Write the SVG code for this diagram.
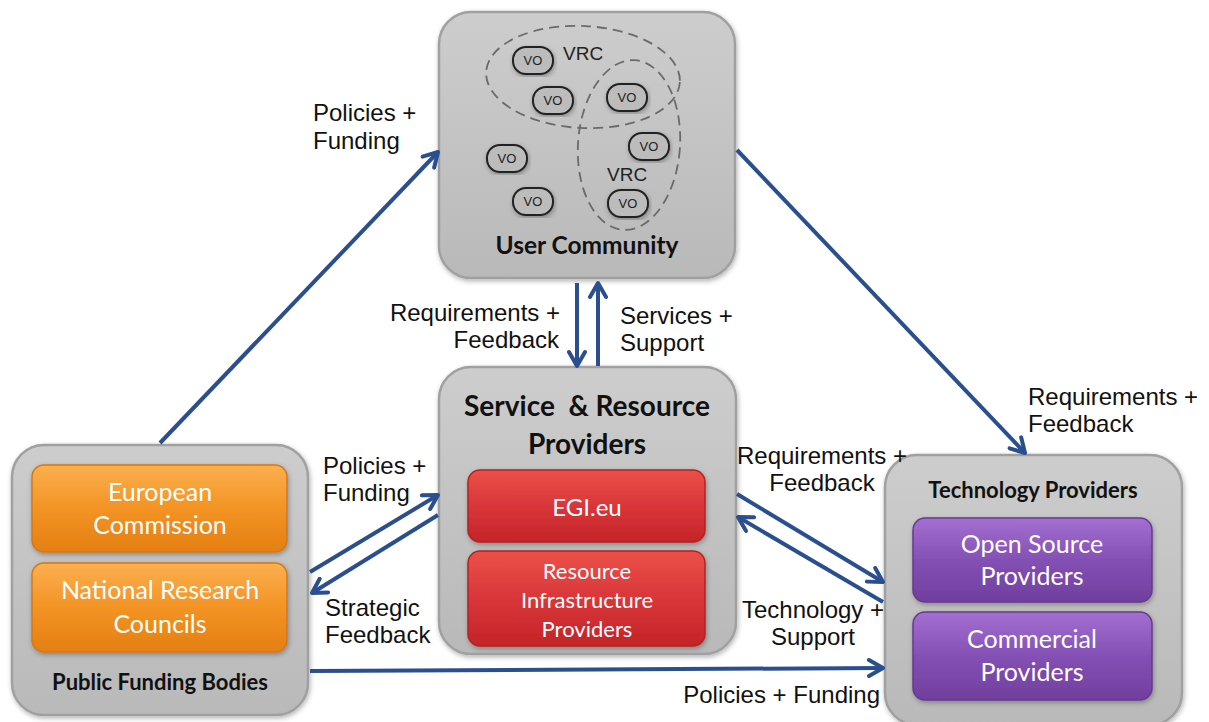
<svg xmlns="http://www.w3.org/2000/svg" width="1209" height="722" viewBox="0 0 1209 722">
<defs>
<linearGradient id="gGray" x1="0" y1="0" x2="0" y2="1">
<stop offset="0" stop-color="#cdcdcd"/><stop offset="1" stop-color="#b9b9b9"/>
</linearGradient>
<linearGradient id="gOrange" x1="0" y1="0" x2="0" y2="1">
<stop offset="0" stop-color="#fbb050"/><stop offset="0.5" stop-color="#f39324"/><stop offset="1" stop-color="#e47f12"/>
</linearGradient>
<linearGradient id="gRed" x1="0" y1="0" x2="0" y2="1">
<stop offset="0" stop-color="#ec5048"/><stop offset="0.5" stop-color="#d9363a"/><stop offset="1" stop-color="#c42428"/>
</linearGradient>
<linearGradient id="gPurple" x1="0" y1="0" x2="0" y2="1">
<stop offset="0" stop-color="#a46fd2"/><stop offset="0.5" stop-color="#8450b4"/><stop offset="1" stop-color="#703f9e"/>
</linearGradient>
<filter id="shadow" x="-10%" y="-10%" width="120%" height="120%">
<feDropShadow dx="1" dy="2" stdDeviation="2.5" flood-color="#000" flood-opacity="0.3"/>
</filter>
<marker id="arr" viewBox="0 0 20 20" refX="17" refY="10" markerWidth="20" markerHeight="20" markerUnits="userSpaceOnUse" orient="auto">
<path d="M3,2 L17,10 L3,18" fill="none" stroke="#2b4f8e" stroke-width="4" stroke-linecap="round" stroke-linejoin="round"/>
</marker>
<style>
.outer{fill:url(#gGray);stroke:#a0a0a0;stroke-width:2.5;filter:url(#shadow)}
.orange{fill:url(#gOrange);stroke:#d47818;stroke-width:1.5;filter:url(#shadow)}
.red{fill:url(#gRed);stroke:#b42222;stroke-width:1.5;filter:url(#shadow)}
.purple{fill:url(#gPurple);stroke:#643a8e;stroke-width:1.5;filter:url(#shadow)}
.vo{fill:#bcbcbc;stroke:#222;stroke-width:2;filter:url(#shadow)}
.vot{font-family:"Liberation Sans",Arial,sans-serif;font-size:13px;fill:#222;text-anchor:middle}
.vrc{font-family:"Liberation Sans",Arial,sans-serif;font-size:19px;fill:#222}
.dash{fill:none;stroke:#6a6a6a;stroke-width:1.8;stroke-dasharray:10 6}
.title{font-family:Lato,"Open Sans",sans-serif;font-weight:bold;fill:#111;text-anchor:middle;white-space:pre}
.inner{font-family:Lato,"Open Sans",sans-serif;fill:#fff;text-anchor:middle}
.lbl{font-family:"Liberation Sans",Arial,sans-serif;font-size:24px;fill:#111}
.conn{stroke:#2b4f8e;stroke-width:4;fill:none;marker-end:url(#arr)}
</style>
</defs>
<rect width="1209" height="722" fill="#fff"/>

<g id="user-community">
<rect class="outer" x="439" y="12" width="296" height="266" rx="32"/>
<ellipse class="dash" cx="583" cy="77" rx="97" ry="51" transform="rotate(3 583 77)"/>
<ellipse class="dash" cx="629" cy="145" rx="51" ry="85" transform="rotate(4 629 145)"/>
<rect class="vo" x="513" y="47" width="40" height="27" rx="13"/><text class="vot" x="533" y="65">VO</text>
<rect class="vo" x="533" y="87" width="40" height="27" rx="13"/><text class="vot" x="553" y="105">VO</text>
<rect class="vo" x="607" y="84" width="40" height="27" rx="13"/><text class="vot" x="627" y="102">VO</text>
<rect class="vo" x="629" y="133" width="40" height="27" rx="13"/><text class="vot" x="649" y="151">VO</text>
<rect class="vo" x="487" y="145" width="40" height="27" rx="13"/><text class="vot" x="507" y="163">VO</text>
<rect class="vo" x="513" y="188" width="40" height="27" rx="13"/><text class="vot" x="533" y="206">VO</text>
<rect class="vo" x="608" y="190" width="40" height="27" rx="13"/><text class="vot" x="628" y="208">VO</text>
<text class="vrc" x="563" y="60">VRC</text>
<text class="vrc" x="607" y="181">VRC</text>
<text class="title" x="587" y="254" font-size="24.5">User Community</text>
</g>

<g id="service-resource-providers">
<rect class="outer" x="439" y="367" width="297" height="287" rx="32"/>
<text class="title" x="587" y="416" font-size="28">Service  &amp; Resource</text>
<text class="title" x="587" y="454" font-size="28">Providers</text>
<rect class="red" x="468" y="470" width="237" height="72" rx="12"/>
<text class="inner" x="587" y="516" font-size="24">EGI.eu</text>
<rect class="red" x="468" y="551" width="237" height="95" rx="12"/>
<text class="inner" x="587" y="579" font-size="22">Resource</text>
<text class="inner" x="587" y="608" font-size="22">Infrastructure</text>
<text class="inner" x="587" y="637" font-size="22">Providers</text>
</g>

<g id="public-funding-bodies">
<rect class="outer" x="12" y="445" width="296" height="270" rx="32"/>
<rect class="orange" x="32" y="465" width="255" height="87" rx="12"/>
<text class="inner" x="160" y="501" font-size="25">European</text>
<text class="inner" x="160" y="534" font-size="25">Commission</text>
<rect class="orange" x="32" y="563" width="255" height="89" rx="12"/>
<text class="inner" x="160" y="599" font-size="25">National Research</text>
<text class="inner" x="160" y="633" font-size="25">Councils</text>
<text class="title" x="160" y="690" font-size="22">Public Funding Bodies</text>
</g>

<g id="technology-providers">
<rect class="outer" x="885" y="455" width="297" height="270" rx="32"/>
<text class="title" x="1033" y="498" font-size="22">Technology Providers</text>
<rect class="purple" x="913" y="518" width="239" height="84" rx="12"/>
<text class="inner" x="1032" y="553" font-size="25">Open Source</text>
<text class="inner" x="1032" y="585" font-size="25">Providers</text>
<rect class="purple" x="913" y="612" width="239" height="88" rx="12"/>
<text class="inner" x="1032" y="648" font-size="25">Commercial</text>
<text class="inner" x="1032" y="681" font-size="25">Providers</text>
</g>

<g id="connectors">
<line class="conn" x1="160" y1="443" x2="438" y2="152"/>
<line class="conn" x1="737" y1="150" x2="1025" y2="453"/>
<line class="conn" x1="577" y1="283" x2="577" y2="366"/>
<line class="conn" x1="598" y1="366" x2="598" y2="283"/>
<line class="conn" x1="310" y1="572" x2="438" y2="495"/>
<line class="conn" x1="438" y1="515" x2="312" y2="593"/>
<line class="conn" x1="737" y1="494" x2="883" y2="582"/>
<line class="conn" x1="883" y1="602" x2="738" y2="517"/>
<line class="conn" x1="310" y1="671" x2="883" y2="668"/>
</g>

<g id="labels">
<text class="lbl" x="313" y="121">Policies +</text>
<text class="lbl" x="313" y="149">Funding</text>
<text class="lbl" x="560" y="321" text-anchor="end">Requirements +</text>
<text class="lbl" x="559" y="348" text-anchor="end">Feedback</text>
<text class="lbl" x="620" y="324">Services +</text>
<text class="lbl" x="620" y="351">Support</text>
<text class="lbl" x="323" y="474">Policies +</text>
<text class="lbl" x="323" y="501">Funding</text>
<text class="lbl" x="325" y="616">Strategic</text>
<text class="lbl" x="325" y="643">Feedback</text>
<text class="lbl" x="822" y="464" text-anchor="middle">Requirements +</text>
<text class="lbl" x="822" y="491" text-anchor="middle">Feedback</text>
<text class="lbl" x="813" y="618" text-anchor="middle">Technology +</text>
<text class="lbl" x="813" y="645" text-anchor="middle">Support</text>
<text class="lbl" x="880" y="703" text-anchor="end">Policies + Funding</text>
<text class="lbl" x="1028" y="405">Requirements +</text>
<text class="lbl" x="1028" y="432">Feedback</text>
</g>
</svg>
